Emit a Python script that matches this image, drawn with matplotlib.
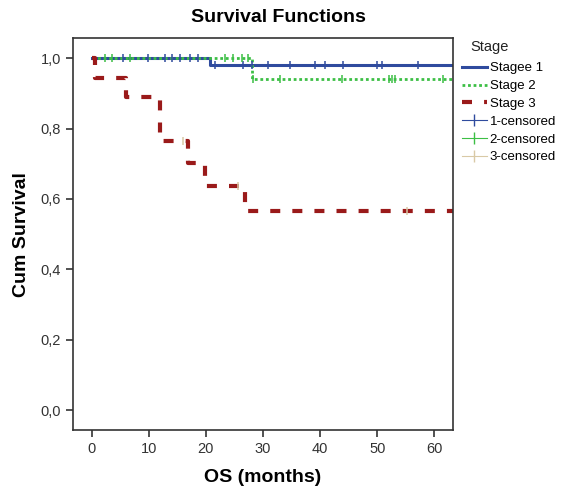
import numpy as np
import matplotlib.pyplot as plt
from matplotlib.lines import Line2D
from matplotlib.ticker import FuncFormatter

plt.rcParams['font.family'] = ['Liberation Sans', 'DejaVu Sans']

# Kaplan-Meier steps (months, survival)
t1 = [0, 20.7, 63.5]
s1 = [1.0, 0.98, 0.98]
t2 = [0, 28.0, 63.5]
s2 = [1.0, 0.94, 0.94]
t3 = [0, 0.5, 6.0, 12.0, 16.8, 19.8, 26.8, 63.5]
s3 = [1.0, 0.944, 0.889, 0.765, 0.703, 0.637, 0.567, 0.567]

# censored times
c1 = [5.4, 9.8, 12.8, 14.0, 15.4, 17.2, 18.6, 21.6, 26.5, 28.0, 30.9, 34.7,
      39.1, 40.9, 44.0, 50.0, 50.8, 57.2]
c2 = [2.3, 3.5, 6.7, 23.3, 24.7, 26.3, 27.4, 28.3, 33.0, 43.8, 52.0, 52.6,
      53.2, 61.6]
c3 = [16.0, 25.6, 55.3]

labels = ['Stagee 1', 'Stage 2', 'Stage 3', '1-censored', '2-censored', '3-censored']

blue = '#2f4b9e'
green = '#3cbf45'
red = '#9a1a1a'
beige = '#d9c9a6'
dots = (0, (1, 1))
dashes = (0, (2.4, 2.9))


def surv_at(t, s, x):
    idx = np.searchsorted(t, x, side='right') - 1
    return np.array(s)[idx]


fig = plt.figure(figsize=(5.65, 4.95), dpi=100)
ax = fig.add_axes([0.129, 0.131, 0.673, 0.792])

ax.step(t1, s1, where='post', color=blue, lw=2.2)
ax.step(t2, s2, where='post', color=green, lw=2, ls=dots)
ax.step(t3, s3, where='post', color=red, lw=3, ls=dashes)

ax.plot(c1, surv_at(t1, s1, c1), ls='none', marker='|', ms=6, mew=1.1, color=blue)
ax.plot(c2, surv_at(t2, s2, c2), ls='none', marker='|', ms=6, mew=1.1, color=green)
ax.plot(c3, surv_at(t3, s3, c3), ls='none', marker='|', ms=6, mew=1.1, color=beige)

ax.set_xlim(-3.3, 63.3)
ax.set_ylim(-0.057, 1.057)
ax.set_xticks([0, 10, 20, 30, 40, 50, 60])
ax.set_yticks([0, 0.2, 0.4, 0.6, 0.8, 1.0])
ax.yaxis.set_major_formatter(FuncFormatter(lambda v, p: f'{v:.1f}'.replace('.', ',')))
ax.tick_params(direction='out', length=5, width=1.2, labelsize=10.5, colors='#333333')
for sp in ax.spines.values():
    sp.set_linewidth(1.2)
    sp.set_color('#333333')

ax.set_xlabel('OS (months)', fontsize=14, fontweight='bold', va='center')
ax.set_ylabel('Cum Survival', fontsize=14, fontweight='bold', va='center')
ax.xaxis.set_label_coords(0.5, -0.122)
ax.yaxis.set_label_coords(-0.134, 0.5)
fig.text(0.492, 0.964, 'Survival Functions', fontsize=14, fontweight='bold',
         ha='center', va='center')

handles = [
    Line2D([], [], color=blue, lw=2.2),
    Line2D([], [], color=green, lw=2, ls=dots),
    Line2D([], [], color=red, lw=3, ls=dashes),
    Line2D([], [], color=blue, lw=0.8, marker='|', ms=8),
    Line2D([], [], color=green, lw=0.8, marker='|', ms=8),
    Line2D([], [], color=beige, lw=0.8, marker='|', ms=8),
]
fig.text(0.832, 0.905, 'Stage', fontsize=10.5, ha='left', va='center', color='#222222')
fig.legend(handles, labels, loc='upper left', bbox_to_anchor=(0.808, 0.885),
           frameon=False, fontsize=9.5, handlelength=1.9, handletextpad=0.2,
           labelspacing=0.42, borderaxespad=0)

fig.savefig('out.png', dpi=100)
